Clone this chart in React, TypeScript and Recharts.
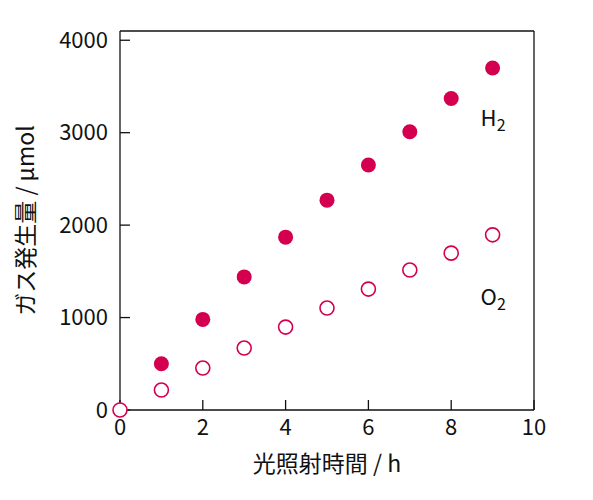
import React from 'react';
import { ScatterChart, Scatter, XAxis, YAxis, ReferenceLine, ReferenceDot, Label } from 'recharts';

const hours = [0, 1, 2, 3, 4, 5, 6, 7, 8, 9];
const h2Values = [null, 500, 980, 1440, 1870, 2270, 2650, 3010, 3370, 3700];
const o2Values = [0, 216, 454, 670, 897, 1103, 1308, 1514, 1697, 1895];
const xTicks = [0, 2, 4, 6, 8, 10];
const yTicks = [0, 1000, 2000, 3000, 4000];
const seriesLabels = [
  { name: 'H', sub: '2', x: 9.0, y: 3160 },
  { name: 'O', sub: '2', x: 9.0, y: 1225 },
];

const h2Data = hours
  .map((h, i) => ({ x: h, y: h2Values[i] }))
  .filter((d) => d.y !== null);
const o2Data = hours.map((h, i) => ({ x: h, y: o2Values[i] }));

const COLOR = '#D4004F';
const FONT = '"Noto Sans CJK JP", "Noto Sans", sans-serif';

const FilledDot = (props: any) => (
  <circle cx={props.cx} cy={props.cy} r={7.5} fill={COLOR} />
);
const HollowDot = (props: any) => (
  <circle cx={props.cx} cy={props.cy} r={7} fill="#fff" stroke={COLOR} strokeWidth={1.6} />
);

const SubLabel = (name: string, sub: string) => (props: any) => {
  const vb = props.viewBox || {};
  const cx = vb.x + (vb.width || 0) / 2;
  const cy = vb.y + (vb.height || 0) / 2;
  return (
    <text x={cx - 12} y={cy + 8} fontSize={22} fontFamily={FONT} fill="#111">
      {name}
      <tspan fontSize={16} dy={5}>{sub}</tspan>
    </text>
  );
};

export default function App() {
  return (
    <div style={{ position: 'absolute', left: 0, top: 0 }}>
      <ScatterChart width={593} height={500} margin={{ top: 31, right: 59, bottom: 28, left: 60 }}>
        <XAxis
          type="number"
          dataKey="x"
          domain={[0, 10]}
          ticks={xTicks}
          height={62}
          tickSize={-10}
          tickMargin={19}
          axisLine={{ stroke: '#111', strokeWidth: 1.3 }}
          tickLine={{ stroke: '#111', strokeWidth: 1.3 }}
          tick={{ fill: '#111', fontSize: 22, fontFamily: FONT }}
          interval={0}
        >
          <Label
            value="光照射時間 / h"
            position="insideBottom"
            offset={0}
            style={{ fill: '#111', fontSize: 23, fontFamily: FONT }}
          />
        </XAxis>
        <YAxis
          type="number"
          dataKey="y"
          domain={[0, 4100]}
          ticks={yTicks}
          width={60}
          tickSize={-10}
          tickMargin={22}
          axisLine={{ stroke: '#111', strokeWidth: 1.3 }}
          tickLine={{ stroke: '#111', strokeWidth: 1.3 }}
          tick={{ fill: '#111', fontSize: 22, fontFamily: FONT }}
          interval={0}
        >
          <Label
            value="ガス発生量 / μmol"
            angle={-90}
            position="insideLeft"
            offset={-34}
            style={{ fill: '#111', fontSize: 23, fontFamily: FONT, textAnchor: 'middle' }}
          />
        </YAxis>
        <ReferenceLine y={4100} stroke="#111" strokeWidth={1.3} />
        <ReferenceLine x={10} stroke="#111" strokeWidth={1.3} />
        <Scatter data={o2Data} shape={HollowDot} isAnimationActive={false} />
        <Scatter data={h2Data} shape={FilledDot} isAnimationActive={false} />
        {seriesLabels.map((l) => (
          <ReferenceDot
            key={l.name}
            x={l.x}
            y={l.y}
            r={0}
            fill="none"
            stroke="none"
            label={SubLabel(l.name, l.sub)}
          />
        ))}
      </ScatterChart>
    </div>
  );
}
